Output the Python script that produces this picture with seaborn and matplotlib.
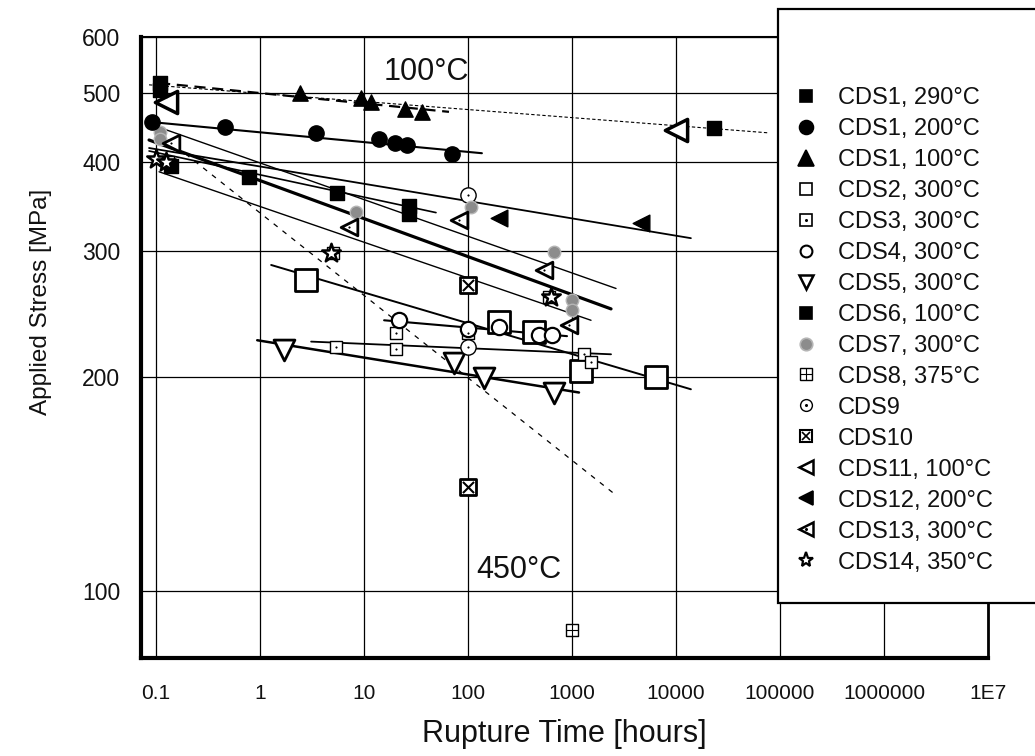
import matplotlib
matplotlib.use("Agg")
import matplotlib.pyplot as plt
import seaborn as sns
import numpy as np
import pandas as pd
from matplotlib.lines import Line2D
from matplotlib.legend_handler import HandlerTuple
from matplotlib.patches import Rectangle
from matplotlib.ticker import FixedLocator, LogLocator, NullLocator, FixedFormatter

sns.set_theme(style="white")
plt.rcParams['font.family'] = ['Liberation Sans', 'DejaVu Sans']

# ---------------- data (rupture time [h], stress [MPa]) ----------------
cds1_290_h = [0.14, 0.78, 5.5, 27, 27]
cds1_290_s = [395, 381, 362, 347, 338]
cds1_200_h = [0.092, 0.46, 3.45, 13.9, 19.9, 25.9, 70]
cds1_200_s = [456, 448, 440, 431, 426, 423, 411]
cds1_100_h = [2.4, 9.4, 11.7, 24.8, 36]
cds1_100_s = [500, 492, 486, 475, 471]
cds2_h = [2.77, 199, 431, 1220, 6420]
cds2_s = [273, 239, 231, 204, 200]
cds3_h = [5.4, 20.3, 20.3, 100, 1300, 1530]
cds3_s = [220, 230, 219, 230, 215, 210]
cds4_h = [21.7, 100, 199, 481, 642]
cds4_s = [240, 233, 235, 229, 229]
cds5_h = [1.7, 73, 143, 671]
cds5_s = [218, 209, 199, 190]
cds6_h = [0.11, 0.11, 23200]
cds6_s = [517, 505, 447]
cds7_h = [0.11, 0.11, 8.4, 108, 671, 1000, 1000]
cds7_s = [441, 432, 341, 346, 299, 256, 248]
cds8_h = [0.13, 5.0, 600, 1000]
cds8_s = [400, 298, 259, 88]
cds9_h = [100, 100]
cds9_s = [360, 220]
cds10_h = [100, 100]
cds10_s = [269, 140]
cds11_h = [0.125, 10000]
cds11_s = [486, 444]
cds12_h = [199, 4600]
cds12_s = [334, 329]
cds13_h = [0.14, 7.2, 82, 538, 935]
cds13_s = [426, 324, 332, 282, 236]
cds14_h = [0.1, 0.125, 4.8, 628]
cds14_s = [405, 400, 298, 259]

# trend lines (end points)
fit_200_h = [0.0857, 136];   fit_200_s = [456, 412]
fit_100_h = [0.107, 65.6];   fit_100_s = [517, 471]
fit_top_h = [0.0857, 78300]; fit_top_s = [514, 440]
fit_a_h = [0.0857, 13900];   fit_a_s = [419, 313]
fit_b_h = [0.0857, 49.2];    fit_b_s = [415, 340]
fit_c_h = [0.107, 2650];     fit_c_s = [448, 266]
fit_d_h = [0.0857, 2372];    fit_d_s = [430, 249]
fit_e_h = [0.107, 1523];     fit_e_s = [388, 240]
fit_dash_h = [0.107, 2535];  fit_dash_s = [440, 137]
fit_g_h = [1.28, 13900];     fit_g_s = [287, 192]
fit_4_h = [15.6, 895];       fit_4_s = [240, 228]
fit_3_h = [3.1, 2372];       fit_3_s = [224, 215]
fit_5_h = [0.94, 1167];      fit_5_s = [225, 190]

legend_labels = ["CDS1, 290°C", "CDS1, 200°C", "CDS1, 100°C", "CDS2, 300°C",
                 "CDS3, 300°C", "CDS4, 300°C", "CDS5, 300°C", "CDS6, 100°C",
                 "CDS7, 300°C", "CDS8, 375°C", "CDS9", "CDS10",
                 "CDS11, 100°C", "CDS12, 200°C", "CDS13, 300°C", "CDS14, 350°C"]

x_tick_vals = [0.1, 1, 10, 100, 1000, 1e4, 1e5, 1e6, 1e7]
x_tick_labels = ["0.1", "1", "10", "100", "1000", "10000", "100000", "1000000", "1E7"]
y_tick_vals = [100, 200, 300, 400, 500, 600]
y_tick_labels = ["100", "200", "300", "400", "500", "600"]

# ---------------- figure ----------------
fig = plt.figure(figsize=(10.35, 7.56), dpi=100)
ax = fig.add_axes([141/1035, 1-658/756, (988-141)/1035, (658-37)/756])
ax.set_xscale('log')
ax.set_yscale('log')

def fit(h, s, ls='-', lw=1.2):
    sns.lineplot(x=h, y=s, ax=ax, color='black', linestyle=ls, linewidth=lw,
                 sort=False, estimator=None, zorder=3, legend=False)

fit(fit_top_h, fit_top_s, (0, (3, 2)), 0.8)
fit(fit_100_h, fit_100_s, (0, (5, 3)), 1.6)
fit(fit_200_h, fit_200_s, '-', 1.5)
fit(fit_a_h, fit_a_s, '-', 1.3)
fit(fit_b_h, fit_b_s, '-', 1.2)
fit(fit_c_h, fit_c_s, '-', 1.0)
fit(fit_d_h, fit_d_s, '-', 2.3)
fit(fit_e_h, fit_e_s, '-', 1.0)
fit(fit_dash_h, fit_dash_s, (0, (4, 5)), 0.9)
fit(fit_g_h, fit_g_s, '-', 1.4)
fit(fit_4_h, fit_4_s, '-', 1.5)
fit(fit_3_h, fit_3_s, '-', 1.3)
fit(fit_5_h, fit_5_s, '-', 1.8)

def pts(h, s, marker, ms, face, edge='black', lw=1.5, z=5):
    sns.scatterplot(x=h, y=s, ax=ax, marker=marker, s=ms**2, color=face,
                    edgecolor=edge, linewidth=lw, zorder=z, legend=False)

pts(cds2_h, cds2_s, 's', 16, 'white', lw=2.0, z=4)
pts(cds3_h, cds3_s, 's', 8, 'white', lw=1.0)
pts(cds3_h, cds3_s, '.', 2, 'black', lw=0.5, z=6)
pts(cds4_h, cds4_s, 'o', 11, 'white', lw=1.6)
pts(cds5_h, cds5_s, 'v', 15, 'white', lw=2.0)
pts(cds9_h, cds9_s, 'o', 11, 'white', lw=1.0)
pts(cds9_h, cds9_s, '.', 2, 'black', lw=0.5, z=6)
pts(cds10_h, cds10_s, 's', 11, 'white', lw=2.0)
pts(cds10_h, cds10_s, 'x', 8, 'black', lw=1.5, z=6)
pts(cds8_h, cds8_s, 's', 9, 'white', lw=1.0)
pts(cds8_h, cds8_s, '+', 9, 'black', lw=0.8, z=6)
pts(cds7_h, cds7_s, 'o', 9, '#8c8c8c', edge='#b5b5b5', lw=1.0)
pts(cds13_h, cds13_s, '<', 12, 'white', lw=2.0)
pts(cds13_h, cds13_s, '.', 2, 'black', lw=0.5, z=6)
pts(cds11_h, cds11_s, '<', 16, 'white', lw=2.5)
pts(cds12_h, cds12_s, '<', 12, 'black', lw=1.0)
pts(cds1_290_h, cds1_290_s, 's', 9.5, 'black', lw=1.0)
pts(cds6_h, cds6_s, 's', 9.5, 'black', lw=1.0)
pts(cds1_200_h, cds1_200_s, 'o', 11, 'black', lw=1.0)
pts(cds1_100_h, cds1_100_s, '^', 11, 'black', lw=1.0)
pts(cds14_h, cds14_s, '*', 14, 'white', lw=1.8, z=7)

# ---------------- axes styling ----------------
ax.set_xlim(0.0717, 1e7)
ax.set_ylim(80.5, 600)
ax.xaxis.set_major_locator(FixedLocator(x_tick_vals))
ax.xaxis.set_major_formatter(FixedFormatter(x_tick_labels))
ax.xaxis.set_minor_locator(LogLocator(base=10, subs=np.arange(2, 10), numticks=30))
ax.yaxis.set_major_locator(FixedLocator(y_tick_vals))
ax.yaxis.set_major_formatter(FixedFormatter(y_tick_labels))
ax.yaxis.set_minor_locator(NullLocator())
ax.grid(True, which='major', color='black', linewidth=0.9)
ax.set_axisbelow(True)
for side, w in [('left', 3.0), ('bottom', 3.0), ('top', 1.5), ('right', 2.0)]:
    ax.spines[side].set_color('black')
    ax.spines[side].set_linewidth(w)
ax.tick_params(axis='x', which='major', direction='out', length=10, width=1.6,
               color='black', pad=9, labelsize=15, labelcolor='#111111')
ax.tick_params(axis='x', which='minor', direction='out', length=6, width=1.2, color='black')
ax.tick_params(axis='y', which='major', direction='out', length=6, width=2.5,
               color='black', pad=9, labelsize=16.5, labelcolor='#111111')

ax.set_xlabel("Rupture Time [hours]", fontsize=22, color='#111111')
ax.set_ylabel("Applied Stress [MPa]", fontsize=17.5, color='#111111')
ax.xaxis.set_label_coords(0.5, -0.098)
ax.yaxis.set_label_coords(-0.105, 0.573)

ax.text(39.5, 536, "100°C", fontsize=22, ha='center', va='center', color='#111111', zorder=8)
ax.text(310, 107, "450°C", fontsize=22, ha='center', va='center', color='#111111', zorder=8)

# ---------------- legend ----------------
def h(marker, ms, face, edge='black', mew=1.2):
    return Line2D([], [], marker=marker, linestyle='none', markersize=ms,
                  markerfacecolor=face, markeredgecolor=edge, markeredgewidth=mew)

handles = [
    h('s', 9, 'black'),
    h('o', 10, 'black'),
    h('^', 11, 'black'),
    h('s', 8, 'white'),
    (h('s', 8, 'white'), h('.', 2, 'black')),
    h('o', 8.5, 'white', mew=1.5),
    h('v', 10, 'white', mew=1.8),
    h('s', 9, 'black'),
    h('o', 9, '#8c8c8c', edge='#b5b5b5'),
    (h('s', 8, 'white', mew=1.0), h('+', 8, 'black', mew=0.8)),
    (h('o', 8.5, 'white', mew=1.0), h('.', 2, 'black')),
    (h('s', 8, 'white', mew=1.5), h('x', 6, 'black', mew=1.2)),
    h('<', 10, 'white', mew=1.8),
    h('<', 10, 'black'),
    (h('<', 10, 'white', mew=1.8), h('.', 2, 'black')),
    h('*', 11, 'white', mew=1.6),
]

frame = Rectangle((778/1035, 1-603/756), 0.4, (603-9)/756, transform=fig.transFigure,
                  facecolor='white', edgecolor='black', linewidth=1.6, zorder=10)
fig.patches.append(frame)

leg = fig.legend(handles, legend_labels, loc='upper left',
                 bbox_to_anchor=(794/1035, 1-87/756), frameon=False,
                 fontsize=17, handlelength=1.0, handletextpad=0.85,
                 labelspacing=0.38, borderpad=0, borderaxespad=0,
                 handler_map={tuple: HandlerTuple(ndivide=1)})
leg.set_zorder(11)
for t in leg.get_texts():
    t.set_color('#111111')

fig.savefig("out.png", dpi=100)
